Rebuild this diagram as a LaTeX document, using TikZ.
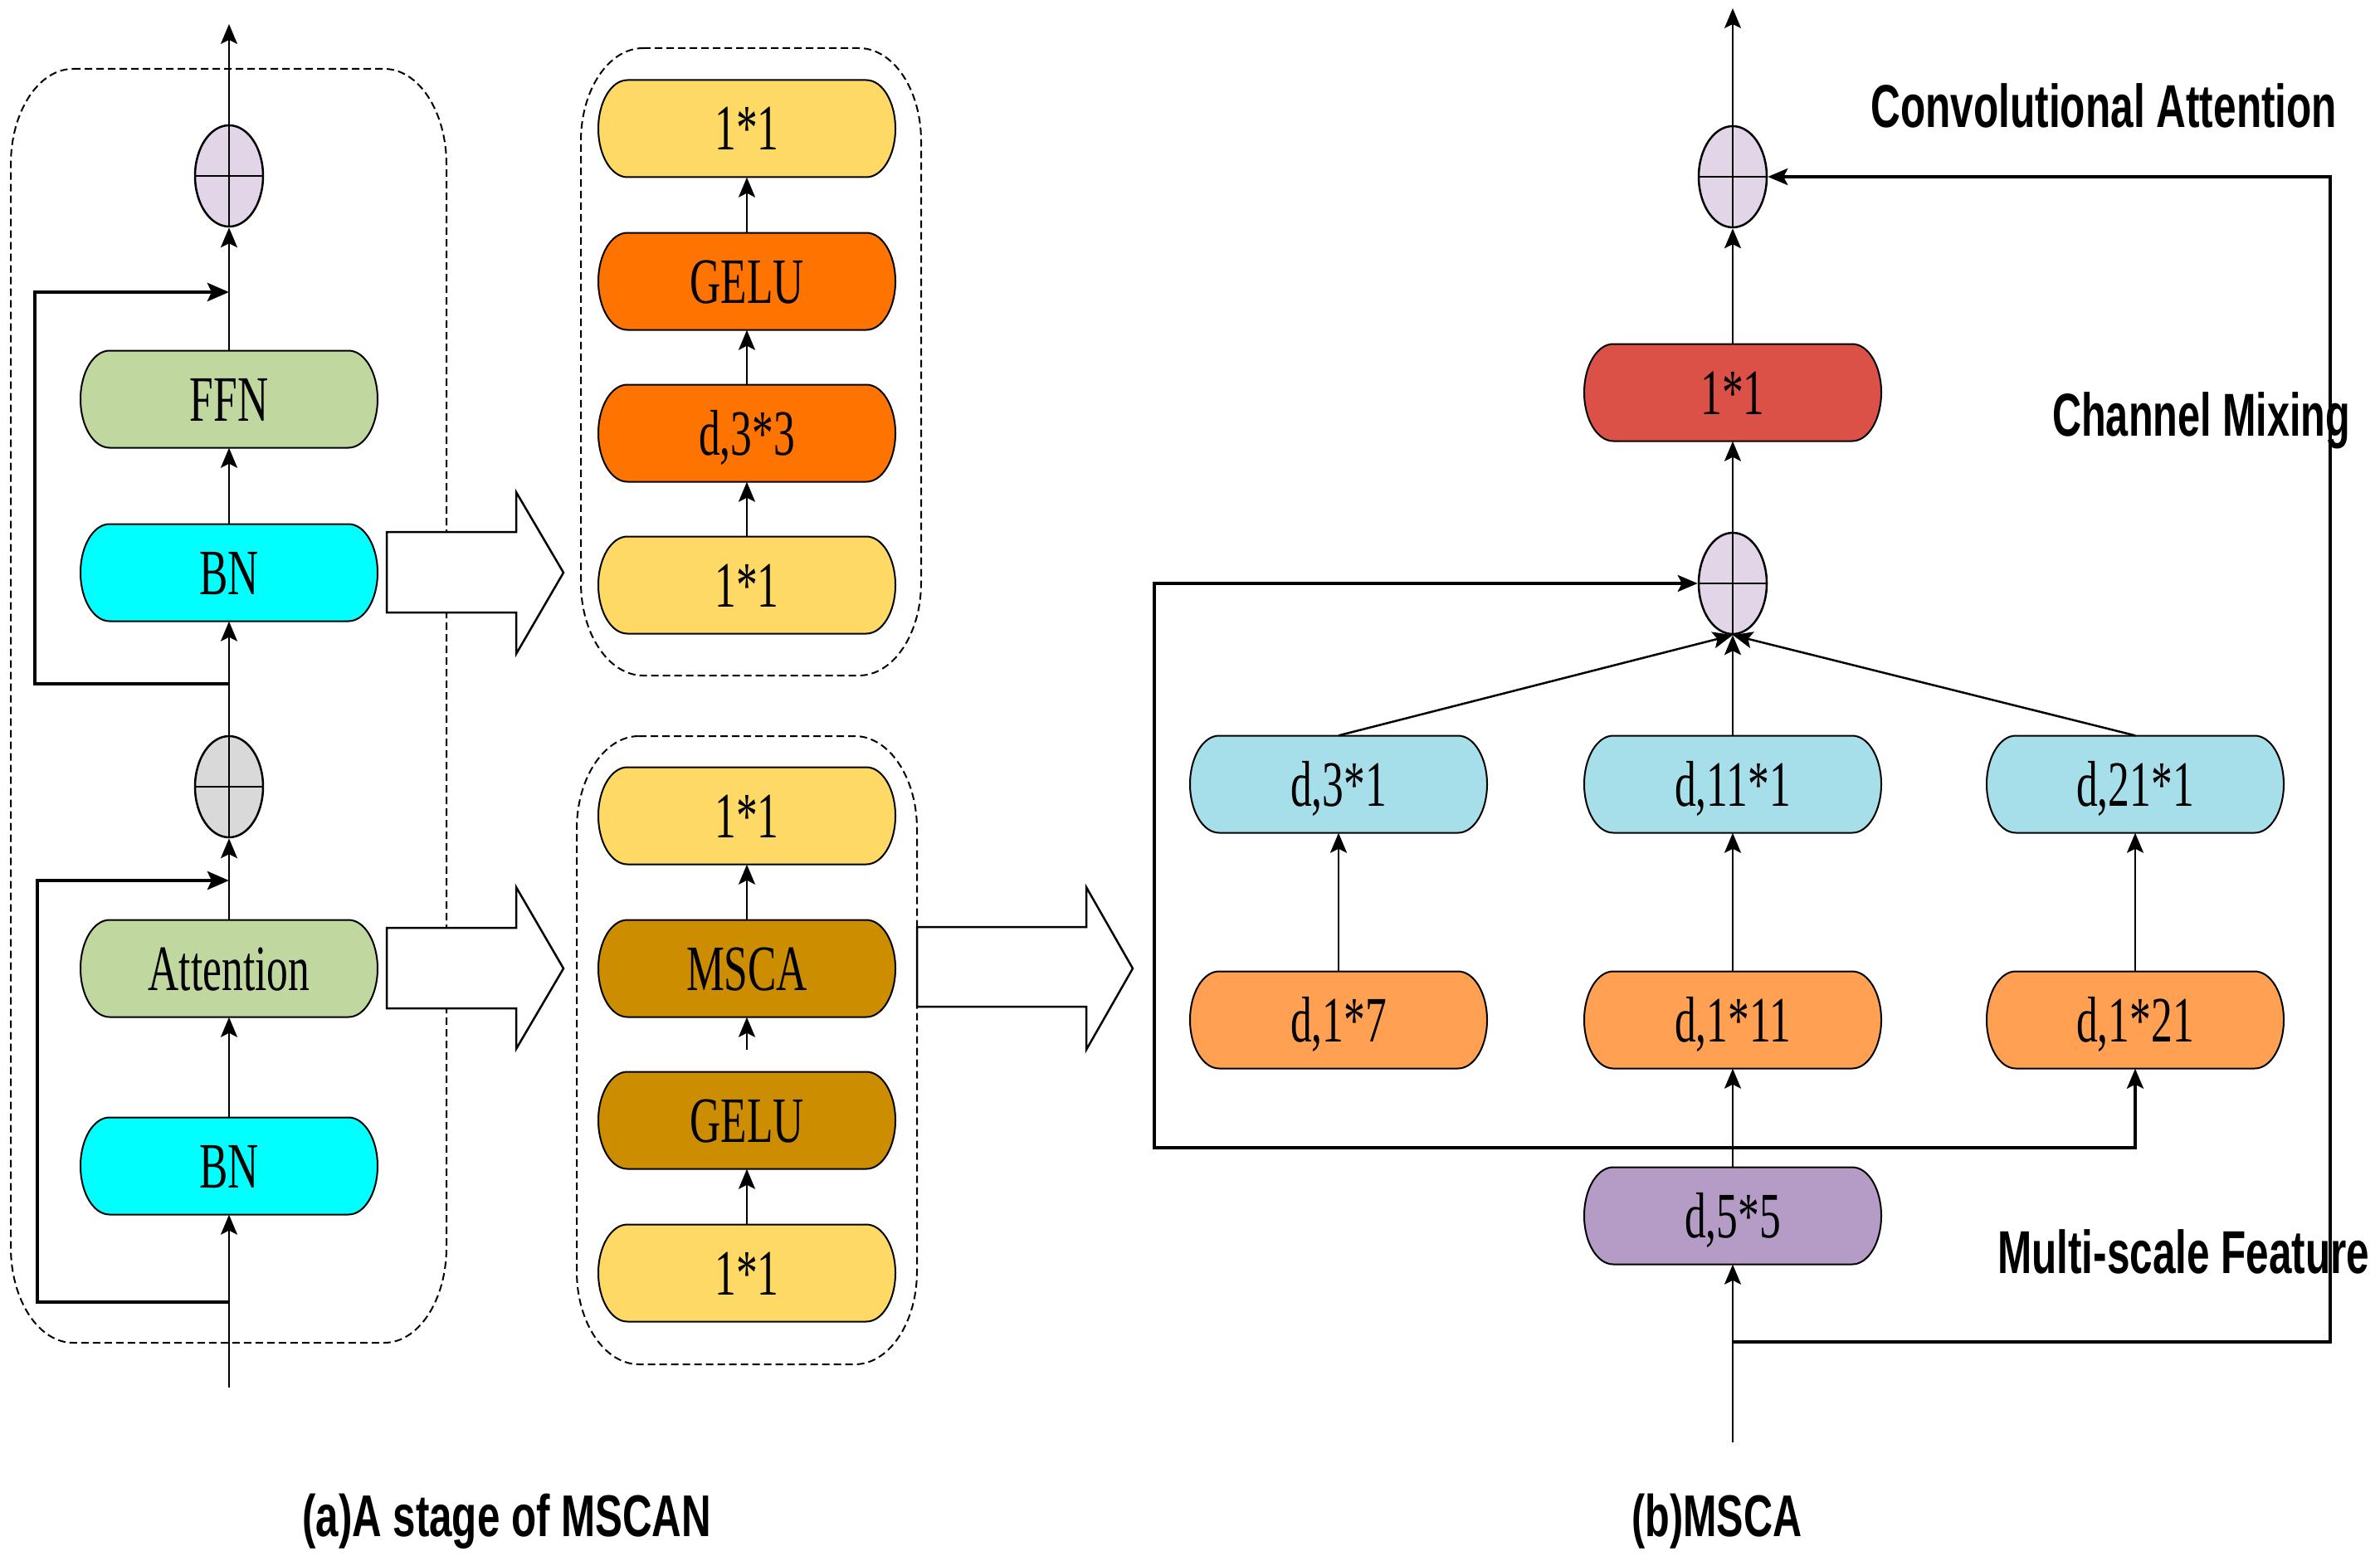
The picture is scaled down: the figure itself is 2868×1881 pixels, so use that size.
\documentclass[tikz,border=0pt]{standalone}
\usepackage{fontspec}
\usepackage{graphicx}
\setmainfont{Liberation Serif}
\newfontfamily\labfont{Liberation Sans}
\usetikzlibrary{shapes.geometric,arrows.meta}
\definecolor{cyellow}{HTML}{FFD966}
\definecolor{corange}{HTML}{FF7300}
\definecolor{cbrown}{HTML}{CC8E00}
\definecolor{cgreen}{HTML}{C0D89F}
\definecolor{ccyan}{HTML}{00FFFF}
\definecolor{cblue}{HTML}{A6DEE9}
\definecolor{clorange}{HTML}{FFA052}
\definecolor{cred}{HTML}{DC5147}
\definecolor{cpurple}{HTML}{B49CC6}
\definecolor{clav}{HTML}{E1D5E7}
\definecolor{cgray}{HTML}{D9D9D9}
\newcommand\boxtxt[1]{\scalebox{0.66}[1]{#1}}
\tikzset{
  pill/.pic={\path[pic actions] (-144,-58.5) -- (144,-58.5) .. controls (163.3,-58.5) and (179,-32.3) .. (179,0) .. controls (179,32.3) and (163.3,58.5) .. (144,58.5) -- (-144,58.5) .. controls (-163.3,58.5) and (-179,32.3) .. (-179,0) .. controls (-179,-32.3) and (-163.3,-58.5) .. (-144,-58.5) -- cycle;},
  boxtext/.style={minimum width=358pt, minimum height=117pt, inner sep=0pt, text height=52pt, text depth=0pt, font=\fontsize{78}{80}\selectfont},
  plus/.style={ellipse, draw=black, line width=2.5pt, minimum width=82pt, minimum height=122pt, inner sep=0pt,
    path picture={\draw[line width=2.5pt] (path picture bounding box.north) -- (path picture bounding box.south) (path picture bounding box.west) -- (path picture bounding box.east);}},
  arr/.style={line width=2.5pt, -{Stealth[length=24pt, width=20pt, inset=5pt]}},
  skipa/.style={line width=4.5pt, -{Stealth[length=26pt, width=22pt, inset=5pt]}},
  skipb/.style={line width=3.5pt, -{Stealth[length=24pt, width=20pt, inset=5pt]}},
  dbox/.style={draw=black, line width=2pt, dash pattern=on 9pt off 5pt},
  bigarr/.style={draw=black, fill=white, line width=2.5pt, line join=miter},
  lab/.style={inner sep=0pt, font=\labfont\bfseries\fontsize{73}{80}\selectfont},
  captxt/.style={inner sep=0pt, font=\labfont\bfseries\fontsize{71}{80}\selectfont}
}
\newcommand\pillnode[4]{%
  \pic[fill=#3, draw=black, line width=2pt] at (#2) {pill};
  \node[boxtext] (#1) at (#2) {\boxtxt{#4}};}
\newcommand\rbox[6]{%
  \pgfmathsetmacro\rbka{0.5523*#5}\pgfmathsetmacro\rbkb{0.5523*#6}%
  \pgfmathsetmacro\rbxa{#1+#5}\pgfmathsetmacro\rbxb{#3-#5}%
  \pgfmathsetmacro\rbya{#2+#6}\pgfmathsetmacro\rbyb{#4-#6}%
  \draw[dbox] (\rbxa,#2) -- (\rbxb,#2) .. controls ({\rbxb+\rbka},#2) and (#3,{\rbya-\rbkb}) .. (#3,\rbya) -- (#3,\rbyb) .. controls (#3,{\rbyb+\rbkb}) and ({\rbxb+\rbka},#4) .. (\rbxb,#4) -- (\rbxa,#4) .. controls ({\rbxa-\rbka},#4) and (#1,{\rbyb+\rbkb}) .. (#1,\rbyb) -- (#1,\rbya) .. controls (#1,{\rbya-\rbkb}) and ({\rbxa-\rbka},#2) .. (\rbxa,#2) -- cycle;}
\begin{document}
\begin{tikzpicture}[x=1pt,y=-1pt]
\useasboundingbox (0,0) rectangle (2868,1881);
% dashed frames
\rbox{13}{83}{538}{1618}{75}{115}
\rbox{700}{58}{1110}{814}{75}{112}
\rbox{695}{887}{1105}{1644}{75}{112}
% big hollow arrows
\draw[bigarr] (466,641) -- (622,641) -- (622,593) -- (679,690) -- (622,788) -- (622,738) -- (466,738) -- cycle;
\draw[bigarr] (466,1118) -- (622,1118) -- (622,1069) -- (679,1167) -- (622,1264) -- (622,1215) -- (466,1215) -- cycle;
\draw[bigarr] (1105,1117) -- (1309,1117) -- (1309,1069) -- (1365,1167) -- (1309,1265) -- (1309,1213) -- (1105,1213) -- cycle;
% ---------- panel (a) ----------
\pillnode{bnb}{276,1405}{ccyan}{BN}
\pillnode{att}{276,1167}{cgreen}{Attention}
\node[plus, fill=cgray] (p2) at (276,948) {};
\pillnode{bnt}{276,690}{ccyan}{BN}
\pillnode{ffn}{276,481}{cgreen}{FFN}
\node[plus, fill=clav] (p1) at (276,212) {};
\coordinate (in1) at (276,1672);
\coordinate (out1) at (276,29);
\coordinate (s2a) at (276,1569);
\coordinate (j2) at (276,1061);
\coordinate (s1a) at (276,824);
\coordinate (j1) at (276,352);
\draw[arr] (in1) -- (bnb);
\draw[arr] (bnb) -- (att);
\draw[arr] (att) -- (p2);
\draw[skipa] (s2a) -- (45,1569) |- (j2);
\draw[arr] (p2) -- (bnt);
\draw[skipa] (s1a) -- (42,824) |- (j1);
\draw[arr] (bnt) -- (ffn);
\draw[arr] (ffn) -- (p1);
\draw[arr] (p1) -- (out1);
% upper detail (FFN)
\pillnode{ua}{900,705}{cyellow}{1*1}
\pillnode{ub}{900,522}{corange}{d,3*3}
\pillnode{uc}{900,339}{corange}{GELU}
\pillnode{ud}{900,155}{cyellow}{1*1}
\draw[arr] (ua) -- (ub);
\draw[arr] (ub) -- (uc);
\draw[arr] (uc) -- (ud);
% lower detail (Attention)
\pillnode{la}{900,1534}{cyellow}{1*1}
\pillnode{lb}{900,1350}{cbrown}{GELU}
\pillnode{lc}{900,1167}{cbrown}{MSCA}
\pillnode{ld}{900,983}{cyellow}{1*1}
\coordinate (lbs) at (900,1265);
\draw[arr] (la) -- (lb);
\draw[arr] (lbs) -- (lc);
\draw[arr] (lc) -- (ld);
% ---------- panel (b) ----------
\pillnode{dff}{2088,1465}{cpurple}{d,5*5}
\pillnode{o1}{1613,1229}{clorange}{d,1*7}
\pillnode{o2}{2088,1229}{clorange}{d,1*11}
\pillnode{o3}{2573,1229}{clorange}{d,1*21}
\pillnode{b1}{1613,945}{cblue}{d,3*1}
\pillnode{b2}{2088,945}{cblue}{d,11*1}
\pillnode{b3}{2573,945}{cblue}{d,21*1}
\node[plus, fill=clav] (p4) at (2088,703) {};
\pillnode{red}{2088,473}{cred}{1*1}
\node[plus, fill=clav] (p3) at (2088,213) {};
\coordinate (in2) at (2088,1738);
\coordinate (fb) at (2088,1617);
\coordinate (sk) at (2088,1383);
\coordinate (out2) at (2088,10);
\draw[arr] (in2) -- (dff);
\draw[skipb] (fb) -- (2808,1617) |- (p3.east);
\draw[arr] (dff) -- (o2);
\draw[skipb] (sk) -- (1391,1383) |- (p4.west);
\draw[skipb] (sk) -| (o3.south);
\draw[arr] (o1) -- (b1);
\draw[arr] (o2) -- (b2);
\draw[arr] (o3) -- (b3);
\draw[arr] (b1.north) -- (p4.south);
\draw[arr] (b2) -- (p4);
\draw[arr] (b3.north) -- (p4.south);
\draw[arr] (p4) -- (red);
\draw[arr] (red) -- (p3);
\draw[arr] (p3) -- (out2);
% labels
\node[lab, anchor=base west] (lconv) at (2254,154) {\resizebox{562pt}{\height}{Convolutional Attention}};
\node[lab, anchor=base west] (lchan) at (2473,525) {\resizebox{359pt}{\height}{Channel Mixing}};
\node[lab, anchor=base west] (lmulti) at (2407,1534) {\resizebox{448pt}{\height}{Multi-scale Feature}};
\node[captxt, anchor=base west] (capa) at (364,1851) {\resizebox{493pt}{\height}{(a)A stage of MSCAN}};
\node[captxt, anchor=base west] (capb) at (1966,1851) {\resizebox{205pt}{\height}{(b)MSCA}};
\end{tikzpicture}
\end{document}
